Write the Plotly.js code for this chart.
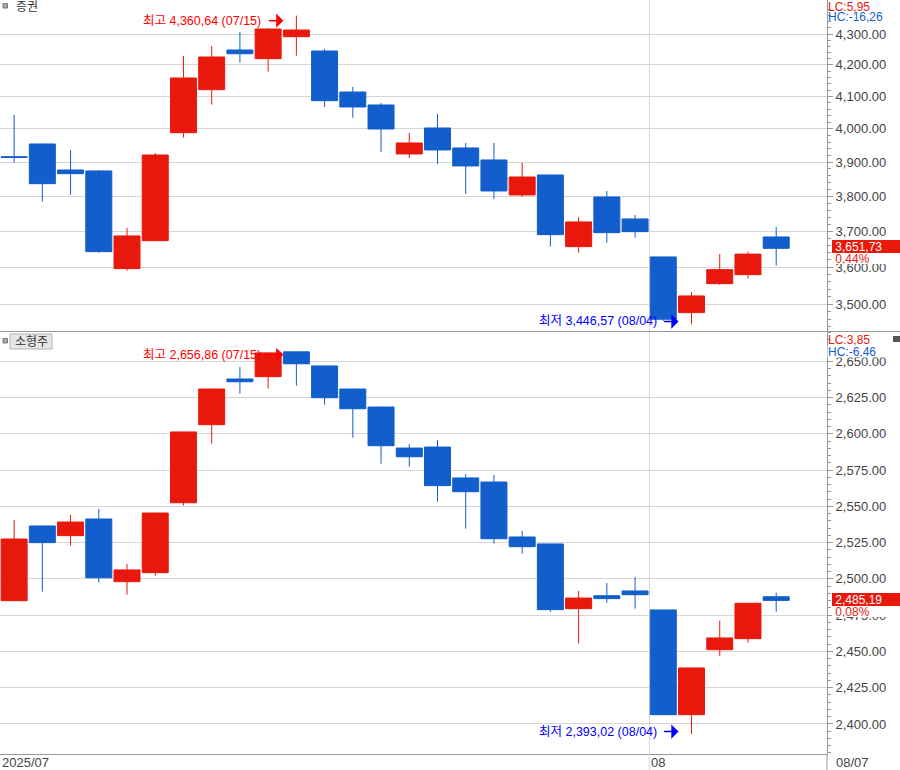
<!DOCTYPE html>
<html><head><meta charset="utf-8">
<script src="https://cdn.plot.ly/plotly-3.0.1.min.js"></script>
<style>html,body{margin:0;padding:0;background:#fff;}#chart{width:900px;height:770px;}</style>
</head><body><div id="chart"></div>
<script>
// ---- data ----
const dates = ['07/01','07/02','07/03','07/04','07/07','07/08','07/09','07/10','07/11','07/14',
  '07/15','07/16','07/17','07/18','07/21','07/22','07/23','07/24','07/25','07/28',
  '07/29','07/30','07/31','08/01','08/04','08/05','08/06','08/07'];

const secName = '증권';
const secOpen  = [3916.0,3954.2,3876.6,3873.7,3595.7,3673.2,3988.4,4121.3,4247.9,4219.8,4291.2,4244.6,4114.0,4073.5,3924.2,4002.7,3942.2,3906.3,3803.4,3861.8,3656.5,3797.6,3734.5,3627.9,3477.1,3554.8,3579.2,3683.5];
const secHigh  = [4042.6,3954.8,3936.2,3876.6,3708.9,3927.1,4228.5,4260.9,4306.6,4319.7,4360.64,4251.1,4129.8,4079.7,3987.5,4045.6,3957.2,3957.2,3897.3,3862.0,3740.2,3815.0,3745.9,3628.0,3532.4,3636.2,3642.5,3711.8];
const secLow   = [3898.2,3784.0,3804.3,3639.8,3590.2,3673.0,3973.2,4074.4,4207.0,4178.2,4229.5,4067.3,4034.2,3930.2,3912.2,3894.4,3806.3,3791.9,3797.6,3656.5,3639.8,3667.6,3681.6,3455.0,3446.57,3551.3,3568.4,3603.9];
const secClose = [3914.0,3836.3,3865.7,3642.5,3686.4,3921.1,4158.2,4225.3,4235.9,4316.4,4313.1,4086.9,4067.3,3999.6,3957.2,3936.2,3888.5,3815.0,3855.9,3690.1,3726.0,3695.7,3698.5,3459.7,3521.6,3592.9,3635.7,3651.73];

const smName = '소형주';
const smOpen  = [2485.0,2536.5,2529.8,2541.3,2498.1,2504.3,2552.5,2606.3,2637.8,2639.4,2656.5,2646.8,2630.9,2618.5,2590.2,2590.9,2569.6,2566.8,2528.9,2524.1,2479.5,2488.4,2491.7,2478.6,2406.4,2451.2,2458.8,2487.7];
const smHigh  = [2540.6,2536.8,2544.1,2548.2,2510.3,2545.6,2601.5,2631.1,2646.1,2656.2,2656.86,2647.0,2631.0,2618.7,2593.0,2595.8,2572.3,2571.6,2533.0,2524.2,2491.7,2497.2,2501.3,2478.7,2438.8,2471.2,2483.4,2490.5];
const smLow   = [2484.6,2491.2,2522.9,2497.4,2489.1,2502.2,2550.7,2593.2,2627.7,2631.1,2633.2,2620.1,2597.3,2579.4,2577.4,2553.2,2534.6,2524.3,2517.4,2477.4,2455.4,2483.6,2479.5,2406.2,2393.02,2446.9,2456.0,2477.4];
const smClose = [2527.5,2525.0,2539.2,2500.8,2506.2,2545.4,2601.3,2630.9,2635.9,2655.8,2648.3,2624.9,2617.3,2591.8,2584.2,2564.3,2560.1,2527.7,2522.2,2478.8,2486.8,2486.4,2489.1,2406.4,2438.6,2459.3,2483.2,2485.19];

const secTicks = [3500,3600,3700,3800,3900,4000,4100,4200,4300];
const smTicks  = [2400,2425,2450,2475,2500,2525,2550,2575,2600,2625,2650];
const xLabels  = ['2025/07','08','08/07'];

// ---- styling ----
const RED = '#e8190c', BLUE = '#125ecc', TXT = '#444', GRID = '#d6d6d6', AX = '#999';
const FONT = 'Liberation Sans, Arial, Noto Sans CJK KR, sans-serif';
const KFONT = 'Liberation Sans, Noto Sans CJK KR, sans-serif';
const W = 900, H = 770, PLOTR = 827;
const idx = dates.map((d, i) => i);

function kfmt(v){ const s = v.toFixed(2); const p = s.split('.'); return p[0].replace(/\B(?=(\d{3})+(?!\d))/g, ',') + ',' + p[1]; }
function minorVals(lo, hi, step, major){ const a=[]; for(let v=lo; v<=hi; v+=step){ if(v % major !== 0) a.push(v);} return a; }

function candle(o,h,l,c,xa,ya,name){
  return {type:'candlestick', x:idx, open:o, high:h, low:l, close:c, xaxis:xa, yaxis:ya, name:name,
    text:dates, hoverinfo:'skip', whiskerwidth:0,
    increasing:{line:{color:RED,width:1}, fillcolor:RED},
    decreasing:{line:{color:BLUE,width:1}, fillcolor:BLUE}};
}

const data = [candle(secOpen,secHigh,secLow,secClose,'x','y',secName),
              candle(smOpen,smHigh,smLow,smClose,'x2','y2',smName)];

const topDom = [1-331/H, 1], botDom = [16/H, 1-332/H];
const xcommon = {domain:[0, PLOTR/W], range:[-0.5, 28.8], tickmode:'array', tickvals:[22.5], showticklabels:false,
  ticks:'', showgrid:true, gridcolor:GRID, gridwidth:1, zeroline:false, rangeslider:{visible:false}, fixedrange:true};
const ycommon = {side:'right', tickmode:'array', tickformat:',.2f', ticks:'outside', ticklen:5, tickcolor:AX, tickwidth:1,
  showline:true, linecolor:AX, linewidth:1, showgrid:true, gridcolor:GRID, gridwidth:1, zeroline:false, fixedrange:true,
  tickfont:{family:FONT, size:13, color:TXT}};

function panelAnn(xr, yr, log, hi, lo, cl, name, dHigh, dLow, tagShift, pctShift){
  const yv = v => log ? Math.log10(v) : v;
  const mx = Math.max(...hi), mn = Math.min(...lo);
  const iMx = hi.indexOf(mx), iMn = lo.indexOf(mn);
  const last = cl[cl.length-1], prev = cl[cl.length-2];
  const pct = (last-prev)/prev*100;
  return {mx, mn, last, list:[
    {xref:xr, yref:yr, x:iMx, y:yv(mx), text:'최고 '+kfmt(mx)+' ('+dates[iMx]+')', showarrow:false, xanchor:'right', xshift:-33, yshift:dHigh, font:{family:KFONT,size:12.5,color:'#ff0000'}},
    {xref:xr, yref:yr, x:iMx, y:yv(mx), text:'', showarrow:true, ax:-29, ay:0, standoff:13, yshift:dHigh, arrowcolor:'#ff0000', arrowhead:1, arrowsize:1.6, arrowwidth:1.5},
    {xref:xr, yref:yr, x:iMn, y:yv(mn), text:'최저 '+kfmt(mn)+' ('+dates[iMn]+')', showarrow:false, xanchor:'right', xshift:-33, yshift:dLow, font:{family:KFONT,size:12.5,color:'#0000ff'}},
    {xref:xr, yref:yr, x:iMn, y:yv(mn), text:'', showarrow:true, ax:-29, ay:0, standoff:13, yshift:dLow, arrowcolor:'#0000ff', arrowhead:1, arrowsize:1.6, arrowwidth:1.5},
    {xref:'paper', yref:yr, x:832/W, y:yv(last), xanchor:'left', yanchor:'middle', text:'\u00A0'+kfmt(last), showarrow:false,
      bgcolor:RED, font:{family:FONT,size:12,color:'#fff'}, width:68, height:13, align:'left', borderpad:0, borderwidth:0, yshift:tagShift},
    {xref:'paper', yref:yr, x:832/W, y:yv(last), xanchor:'left', yanchor:'middle', text:'\u00A0'+kfmt(pct)+'%', showarrow:false,
      bgcolor:'#fff', font:{family:FONT,size:12,color:RED}, width:62, height:11, align:'left', borderpad:0, borderwidth:0, yshift:pctShift}
  ]};
}

const pTop = panelAnn('x','y',true, secHigh, secLow, secClose, secName, -5, 2.7, 1.7, -10.3);
const pBot = panelAnn('x2','y2',false, smHigh, smLow, smClose, smName, -3.5, 2.5, 1.1, -10.8);

function lchc(p, yLc, yHc, bg){
  const lc = (p.last-p.mn)/p.mn*100, hc = (p.last-p.mx)/p.mx*100;
  return [
    {xref:'paper', yref:'paper', x:827/W, y:1-yLc/H, xanchor:'left', yanchor:'middle', text:'LC:'+kfmt(lc), showarrow:false, font:{family:FONT,size:12,color:RED}, borderpad:0},
    {xref:'paper', yref:'paper', x:827/W, y:1-yHc/H, xanchor:'left', yanchor:'middle', text:'HC:'+kfmt(hc), showarrow:false, font:{family:FONT,size:12,color:'#1560d0'},
      bgcolor:bg, width:bg?62:null, height:bg?11:null, align:'left', borderpad:0}
  ];
}

const annotations = [].concat(pTop.list, pBot.list, lchc(pTop, 6.5, 17, null), lchc(pBot, 340, 351.5, '#fff'), [
  {xref:'paper', yref:'paper', x:14/W, y:1-7.5/H, xanchor:'left', yanchor:'middle', text:secName, showarrow:false, font:{family:KFONT,size:12,color:'#333'}},
  {xref:'paper', yref:'paper', x:31/W, y:1-341.5/H, xanchor:'center', yanchor:'middle', text:smName, showarrow:false, font:{family:KFONT,size:12,color:'#333'}},
  {xref:'paper', yref:'paper', x:0, y:1-762/H, xanchor:'left', yanchor:'middle', text:xLabels[0], showarrow:false, font:{family:FONT,size:13,color:TXT}},
  {xref:'x2', yref:'paper', x:22.5, y:1-762/H, xanchor:'left', yanchor:'middle', xshift:0, text:xLabels[1], showarrow:false, font:{family:FONT,size:13,color:TXT}},
  {xref:'paper', yref:'paper', x:834/W, y:1-762/H, xanchor:'left', yanchor:'middle', text:xLabels[2], showarrow:false, font:{family:FONT,size:13,color:TXT}}
]);

const py = px => 1 - px/H;
const shapes = [
  {type:'line', xref:'paper', yref:'paper', x0:0, x1:1, y0:py(331.5), y1:py(331.5), line:{color:AX, width:1}},
  {type:'line', xref:'paper', yref:'paper', x0:PLOTR/W, x1:PLOTR/W, y0:0, y1:py(754), line:{color:AX, width:1}},
  {type:'line', xref:'x2', yref:'paper', x0:22.5, x1:22.5, y0:0, y1:py(754), line:{color:GRID, width:1}},
  {type:'rect', xref:'paper', yref:'paper', x0:3/W, x1:7.5/W, y0:py(8), y1:py(3.5), fillcolor:'#a8a8a8', line:{color:'#777', width:1}},
  {type:'rect', xref:'paper', yref:'paper', x0:3/W, x1:7.5/W, y0:py(343), y1:py(338.5), fillcolor:'#a8a8a8', line:{color:'#777', width:1}},
  {type:'rect', xref:'paper', yref:'paper', x0:10/W, x1:52/W, y0:py(349), y1:py(334), fillcolor:'#e6e6e6', line:{color:'#b4b4b4', width:1}, layer:'below'},
  {type:'rect', xref:'paper', yref:'paper', x0:893/W, x1:900/W, y0:py(342), y1:py(336), fillcolor:'#555', line:{width:0}}
];

const layout = {
  width:W, height:H, autosize:false, margin:{l:0,r:0,t:0,b:0,pad:0},
  paper_bgcolor:'#fff', plot_bgcolor:'#fff', showlegend:false, hovermode:false,
  boxgap:0.079, boxgroupgap:0,
  font:{family:FONT, size:12, color:TXT},
  xaxis: Object.assign({}, xcommon, {anchor:'y', showline:false}),
  xaxis2: Object.assign({}, xcommon, {anchor:'y2', showline:true, linecolor:AX, linewidth:1}),
  yaxis: Object.assign({}, ycommon, {anchor:'x', domain:topDom, type:'log', range:[3.53513, 3.64473], tickvals:secTicks,
    minor:{tickmode:'array', tickvals:minorVals(3440, 4400, 20, 100), ticks:'outside', ticklen:3, tickcolor:AX, showgrid:false}}),
  yaxis2: Object.assign({}, ycommon, {anchor:'x2', domain:botDom, type:'linear', range:[2379.3, 2670.2], tickvals:smTicks,
    minor:{tickmode:'array', tickvals:minorVals(2380, 2670, 5, 25), ticks:'outside', ticklen:3, tickcolor:AX, showgrid:false}}),
  annotations: annotations,
  shapes: shapes
};

Plotly.newPlot('chart', data, layout, {displayModeBar:false, staticPlot:true});
</script></body></html>
